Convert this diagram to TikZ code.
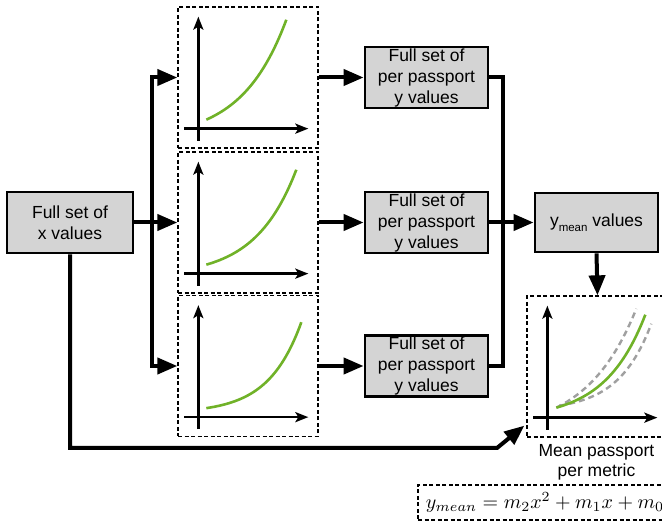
\documentclass[tikz,border=0pt]{standalone}
\usepackage{fontspec}
\newfontfamily\arialfont{Liberation Sans}
\usetikzlibrary{arrows.meta}
\definecolor{boxgray}{RGB}{212,212,212}
\definecolor{curvegreen}{RGB}{112,178,40}
\definecolor{bandgray}{RGB}{160,160,160}
\newcommand{\lbl}{\arialfont\fontsize{17.5}{21}\selectfont}
\newcommand{\plotaxes}[1]{%
  \draw[axarr] ([shift={(21,-8)}]#1.south west) -- ++(0,-124);
  \draw[axarr] ([shift={(7,-20)}]#1.south west) -- ++(124,0);}
\newcommand{\growth}[6][]{%
  \draw[#1] plot[domain=0:1,samples=50,variable=\t]
    ({#2+(#4-#2)*\t},{-(#3+(#5-#3)*(exp(#6*\t)-1)/(exp(#6)-1))});}
\begin{document}
\begin{tikzpicture}[x=1pt,y=-1pt,
  box/.style={draw, line width=2.8pt, fill=boxgray, align=center, inner sep=0pt, font=\lbl},
  plotbox/.style={draw, line width=1.3pt, dash pattern=on 4pt off 2.5pt, inner sep=0pt,
    minimum width=140pt, minimum height=141pt},
  arr/.style={line width=4pt, -{Triangle[length=20pt,width=16pt]}},
  thickline/.style={line width=4pt},
  axarr/.style={line width=2.5pt, -{Stealth[length=13pt,width=10pt,inset=3pt]}},
  curve/.style={line width=2.6pt, curvegreen},
  band/.style={line width=2.4pt, bandgray, dash pattern=on 6pt off 4pt},
]
\useasboundingbox (0,0) rectangle (662,526);
\clip (0,0) rectangle (662,526);

% boxes
\node[box, minimum width=126pt, minimum height=61pt] (xbox) at (70,222.5) {Full set of\\x values};
\node[plotbox] (p1) at (248,77.5) {};
\node[plotbox] (p2) at (248,222.5) {};
\node[plotbox] (p3) at (248,366) {};
\node[box, minimum width=123pt, minimum height=61pt] (y1) at (426.5,77.5) {Full set of\\per passport\\y values};
\node[box, minimum width=123pt, minimum height=61pt] (y2) at (426.5,222.5) {Full set of\\per passport\\y values};
\node[box, minimum width=123pt, minimum height=61pt] (y3) at (426.5,366) {Full set of\\per passport\\y values};
\node[box, minimum width=123pt, minimum height=59pt] (ym) at (596.5,222.5)
  {y\raisebox{-5pt}{\fontsize{11.5}{12}\selectfont mean} values};
\node[plotbox, minimum width=141pt] (pf) at (597.5,366.5) {};
\node[font=\arialfont\fontsize{17.5}{20}\selectfont, align=center, inner sep=0pt] (lab) at (596.5,462.5)
  {Mean passport\\per metric};
\node[draw, line width=1.2pt, dash pattern=on 4pt off 2.5pt, minimum width=250pt, minimum height=35pt]
  (fbox) at (543,502.5) {};
\node[scale=2, inner sep=0pt] (formula) at (545,502.5) {$y_{mean} = m_2x^2 + m_1x + m_0$};

% plot contents
\foreach \p in {p1,p2,p3,pf} {\plotaxes{\p}}
\begin{scope}[shift={(p1.south west)}]
  \growth[curve]{29}{29}{109}{129}{1.8}
\end{scope}
\begin{scope}[shift={(p2.south west)}]
  \growth[curve]{29}{29}{119}{124}{2.2}
\end{scope}
\begin{scope}[shift={(p3.south west)}]
  \growth[curve]{29}{29}{124}{115}{2.9}
\end{scope}
\begin{scope}[shift={(pf.south west)}]
  \growth[band]{30}{30}{110}{129}{1.6}
  \growth[band]{33}{32}{125}{114}{2.8}
  \growth[curve]{30}{30}{119}{123}{2.2}
\end{scope}

% connectors
\coordinate (bx) at (152,222.5);
\draw[arr] (xbox.east) -- (p2.west);
\draw[arr] (bx) |- (p1.west);
\draw[arr] (bx) |- (p3.west);
\draw[arr] (p1.east) -- (y1.west);
\draw[arr] (p2.east) -- (y2.west);
\draw[arr] (p3.east) -- (y3.west);
\coordinate (rb) at (503,222.5);
\draw[thickline] (y1.east) -| (rb) |- (y3.east);
\draw[arr] (y2.east) -- (ym.west);
\draw[arr] (ym.south) -- (pf.north);
\coordinate (low) at (497,448);
\coordinate (tip) at ([shift={(-2,-12)}]pf.south west);
\draw[arr] (xbox.south) |- (low) -- (tip);
\end{tikzpicture}
\end{document}
